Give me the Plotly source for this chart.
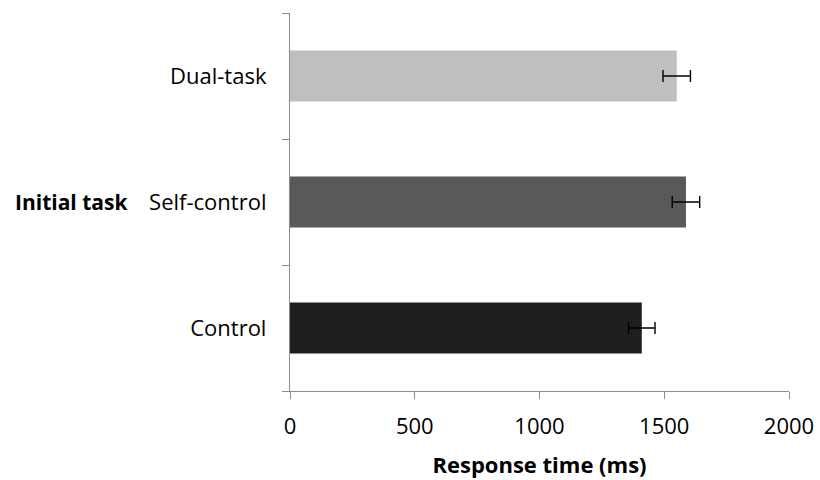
import plotly.graph_objects as go

# Mean response time per initial task, with error bars (ms)
tasks = ["Control", "Self-control", "Dual-task"]
response_ms = [1410, 1587, 1550]
error_ms = [53, 55, 55]
bar_colors = ["#1f1f1f", "#595959", "#bfbfbf"]
x_ticks = [0, 500, 1000, 1500, 2000]

FONT = "Open Sans"
AXIS_GREY = "#8c8c8c"
PLOT_LEFT, PLOT_W = 290, 499

fig = go.Figure(
    go.Bar(
        y=tasks,
        x=response_ms,
        orientation="h",
        marker=dict(color=bar_colors, line=dict(width=0)),
        error_x=dict(type="data", array=error_ms, symmetric=True,
                     color="#000000", thickness=1.4, width=6),
        showlegend=False,
    )
)

fig.update_layout(
    width=820, height=480,
    margin=dict(l=PLOT_LEFT, r=820 - PLOT_LEFT - PLOT_W, t=13, b=89),
    paper_bgcolor="white", plot_bgcolor="white",
    bargap=0.595,
    font=dict(family=FONT, size=22, color="#000000"),
)

fig.update_xaxes(
    range=[0, 2000],
    tickvals=x_ticks,
    ticktext=[str(v) for v in x_ticks],
    showgrid=False, zeroline=False, automargin=False,
    showline=True, linecolor=AXIS_GREY, linewidth=1.3,
    ticks="outside", ticklen=7, tickcolor=AXIS_GREY, tickwidth=1.3,
    tickfont=dict(family=FONT, size=22),
    ticklabelstandoff=8,
    title=dict(text="<b>Response time (ms)</b>", standoff=19,
               font=dict(family=FONT, size=22)),
)

fig.update_yaxes(
    categoryorder="array", categoryarray=tasks,
    showgrid=False, zeroline=False, automargin=False,
    showline=True, linecolor=AXIS_GREY, linewidth=1.3,
    ticks="outside", tickson="boundaries", ticklen=7,
    tickcolor=AXIS_GREY, tickwidth=1.3,
    tickfont=dict(family=FONT, size=22),
    ticklabelstandoff=18,
)

# Horizontal y-axis caption beside the middle category
fig.add_annotation(
    text="<b>Initial task</b>",
    xref="paper", yref="y",
    x=(13 - PLOT_LEFT) / PLOT_W, y="Self-control",
    xanchor="left", yanchor="middle",
    showarrow=False,
    font=dict(family=FONT, size=21, color="#000000"),
)

fig.write_html("out.html")
